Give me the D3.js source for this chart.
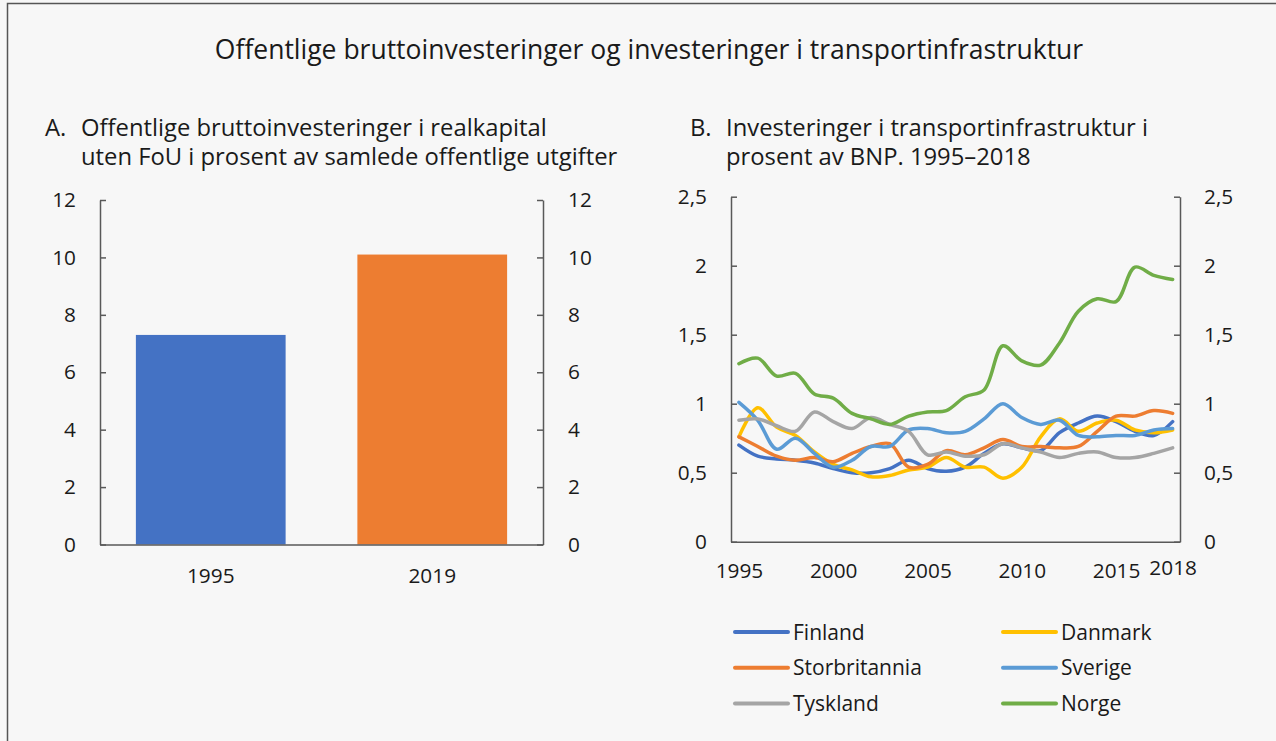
<!DOCTYPE html>
<html>
<head>
<meta charset="utf-8">
<script src="https://cdn.jsdelivr.net/npm/d3@7"></script>
<style>
  body { margin: 0; background: #f7f7f7; }
  text { font-family: "Open Sans", "Noto Sans", sans-serif; fill: #1a1a1a; }
</style>
</head>
<body>
<div id="wrapper"></div>
<script>
// panel A data
const barYears = ["1995", "2019"];
const barValues = [7.3, 10.1];
const barColors = ["#4472C4", "#ED7D31"];
const barTicks = [0, 2, 4, 6, 8, 10, 12];

// panel B data
const years = d3.range(1995, 2019);
const countries = ["Finland", "Danmark", "Storbritannia", "Sverige", "Tyskland", "Norge"];
const lineColors = ["#4472C4", "#FFC000", "#ED7D31", "#5B9BD5", "#A5A5A5", "#70AD47"];
const finland =       [0.70, 0.62, 0.60, 0.59, 0.57, 0.53, 0.50, 0.50, 0.53, 0.59, 0.53, 0.51, 0.54, 0.64, 0.71, 0.68, 0.66, 0.79, 0.86, 0.91, 0.87, 0.80, 0.77, 0.87];
const danmark =       [0.76, 0.97, 0.83, 0.77, 0.65, 0.56, 0.52, 0.47, 0.48, 0.52, 0.54, 0.61, 0.54, 0.54, 0.46, 0.54, 0.76, 0.89, 0.80, 0.86, 0.88, 0.81, 0.79, 0.81];
const storbritannia = [0.76, 0.69, 0.62, 0.59, 0.61, 0.58, 0.64, 0.69, 0.71, 0.54, 0.56, 0.66, 0.63, 0.68, 0.74, 0.69, 0.69, 0.68, 0.69, 0.80, 0.91, 0.91, 0.95, 0.93];
const sverige =       [1.01, 0.88, 0.67, 0.75, 0.64, 0.54, 0.59, 0.69, 0.69, 0.81, 0.82, 0.79, 0.80, 0.89, 1.00, 0.90, 0.85, 0.88, 0.77, 0.76, 0.77, 0.77, 0.81, 0.82];
const tyskland =      [0.88, 0.89, 0.84, 0.80, 0.94, 0.87, 0.82, 0.90, 0.85, 0.80, 0.63, 0.65, 0.62, 0.63, 0.71, 0.68, 0.65, 0.61, 0.64, 0.65, 0.61, 0.61, 0.64, 0.68];
const norge =         [1.29, 1.33, 1.20, 1.22, 1.07, 1.04, 0.93, 0.89, 0.85, 0.91, 0.94, 0.95, 1.05, 1.10, 1.42, 1.31, 1.28, 1.44, 1.67, 1.76, 1.74, 1.99, 1.93, 1.90];
const lineTicks = [0, 0.5, 1, 1.5, 2, 2.5];
const xTickYears = [1995, 2000, 2005, 2010, 2015, 2018];

const seriesValues = [finland, danmark, storbritannia, sverige, tyskland, norge];

const width = 1276, height = 741;
const nb = d3.formatLocale({ decimal: ",", thousands: " ", grouping: [3], currency: ["", ""] });
const fmt = nb.format(".1~f");

const svg = d3.select("#wrapper").append("svg")
    .attr("width", width)
    .attr("height", height);

svg.append("rect").attr("width", width).attr("height", height).attr("fill", "#f7f7f7");

// frame (left + top only)
svg.append("path")
    .attr("d", "M7.5,741 V3.5 H1276")
    .attr("fill", "none")
    .attr("stroke", "#555")
    .attr("stroke-width", 1.5);

svg.append("text")
    .attr("x", 649).attr("y", 59)
    .attr("text-anchor", "middle")
    .style("font-size", "26.5px")
    .text("Offentlige bruttoinvesteringer og investeringer i transportinfrastruktur");

function subtitle(x, letter, lines) {
    let g = svg.append("g");
    g.append("text").attr("x", x).attr("y", 136).style("font-size", "23.8px").text(letter);
    lines.forEach(function (l, i) {
        g.append("text").attr("x", x + 36).attr("y", 136 + 29 * i).style("font-size", "23.8px").text(l);
    });
}
subtitle(45, "A.", ["Offentlige bruttoinvesteringer i realkapital", "uten FoU i prosent av samlede offentlige utgifter"]);
subtitle(690, "B.", ["Investeringer i transportinfrastruktur i", "prosent av BNP. 1995\u20132018"]);

function styleAxis(g) {
    g.selectAll("path.domain").attr("stroke", "#595959").attr("stroke-width", 1.5);
    g.selectAll(".tick line").attr("stroke", "#595959").attr("stroke-width", 1.5);
    g.selectAll(".tick text").style("font-size", "20.8px").attr("fill", "#1a1a1a")
        .style("font-family", "'Open Sans', 'Noto Sans', sans-serif");
}

// ---------- panel A ----------
const barX = d3.scaleBand().domain(barYears).range([100, 543]).paddingInner(0.324).paddingOuter(0.162);
const barY = d3.scaleLinear().domain([0, 12]).range([544.5, 200]);

svg.append("g").selectAll("rect")
    .data(barValues)
    .join("rect")
    .attr("x", (d, i) => barX(barYears[i]))
    .attr("width", barX.bandwidth())
    .attr("y", d => barY(d))
    .attr("height", d => barY(0) - barY(d))
    .attr("fill", (d, i) => barColors[i]);

svg.append("g").attr("transform", "translate(100,0)")
    .call(d3.axisLeft(barY).tickValues(barTicks).tickSizeInner(-6).tickSizeOuter(0).tickPadding(24))
    .call(styleAxis);
svg.append("g").attr("transform", "translate(543,0)")
    .call(d3.axisRight(barY).tickValues(barTicks).tickSizeInner(-6).tickSizeOuter(0).tickPadding(25))
    .call(styleAxis);
svg.append("g").attr("transform", "translate(0," + barY(0) + ")")
    .call(d3.axisBottom(barX).tickSize(0).tickPadding(24))
    .call(styleAxis);

// ---------- panel B ----------
const xScale = d3.scaleLinear().domain([1994.58, 2018.39]).range([731, 1180]);
const yScale = d3.scaleLinear().domain([0, 2.5]).range([541.7, 196.7]);

svg.append("g").attr("transform", "translate(731,0)")
    .call(d3.axisLeft(yScale).tickValues(lineTicks).tickFormat(fmt).tickSizeInner(-6).tickSizeOuter(0).tickPadding(24))
    .call(styleAxis);
svg.append("g").attr("transform", "translate(1180,0)")
    .call(d3.axisRight(yScale).tickValues(lineTicks).tickFormat(fmt).tickSizeInner(-6).tickSizeOuter(0).tickPadding(24))
    .call(styleAxis);
let xAxisG = svg.append("g").attr("transform", "translate(0," + yScale(0) + ")")
    .call(d3.axisBottom(xScale).tickValues(xTickYears).tickFormat(d3.format("d")).tickSize(0).tickPadding(22))
    .call(styleAxis);
xAxisG.selectAll(".tick text").filter(d => d === 2018).attr("y", 19);

const line = d3.line()
    .x((d, i) => xScale(years[i]))
    .y(d => yScale(d))
    .curve(d3.curveCatmullRom.alpha(0.5));

svg.append("g").selectAll("path")
    .data(seriesValues)
    .join("path")
    .attr("d", line)
    .attr("fill", "none")
    .attr("stroke", (d, i) => lineColors[i])
    .attr("stroke-width", 3.5)
    .attr("stroke-linejoin", "round")
    .attr("stroke-linecap", "round");

// legend
const legend = svg.append("g").selectAll("g")
    .data(countries)
    .join("g")
    .attr("transform", (d, i) => "translate(" + (i % 2 === 0 ? 735 : 1003) + "," + (632 + 35.8 * Math.floor(i / 2)) + ")");
legend.append("line")
    .attr("x1", 0).attr("x2", 53)
    .attr("stroke", (d, i) => lineColors[i])
    .attr("stroke-width", 4)
    .attr("stroke-linecap", "round");
legend.append("text")
    .attr("x", 58).attr("y", 7.5)
    .style("font-size", "21px")
    .text(d => d);
</script>
</body>
</html>
